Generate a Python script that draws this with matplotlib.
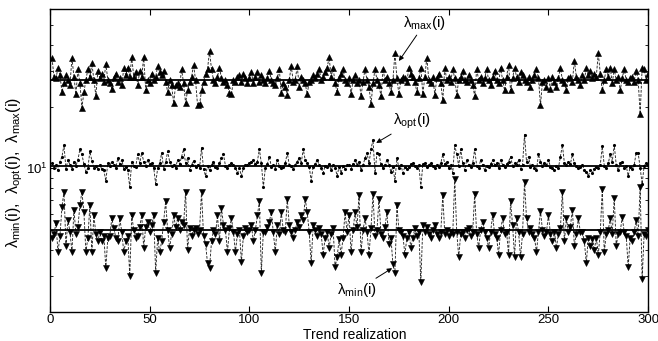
import numpy as np
import matplotlib
matplotlib.use('Agg')
import matplotlib.pyplot as plt
from matplotlib.ticker import NullFormatter, LogLocator

plt.rcParams['font.family'] = ['Liberation Sans', 'DejaVu Sans']
plt.rcParams['mathtext.fontset'] = 'custom'
plt.rcParams['mathtext.rm'] = 'Liberation Sans'
plt.rcParams['mathtext.it'] = 'Liberation Sans:italic'

# realizations 1..300
realization = np.arange(1, 301)

lam_max = [
    34.5, 28, 27.5, 31, 28.5, 23.5, 26, 28.5, 27, 25.5, 34.5, 28, 23, 30.5, 26, 19.8, 23.5, 27, 30.5, 28,
    32.5, 27, 22.6, 30, 27.5, 29, 26.5, 32.4, 27, 26, 24.5, 27.5, 29, 26.5, 27.5, 25.5, 30.8, 28.5, 31, 28,
    34.8, 28, 29.5, 25.5, 30, 28, 35, 24, 27, 26, 29, 27, 28, 31.5, 29.5, 28.5, 30, 26.5, 23.6, 27,
    25.5, 20.8, 25.5, 26, 25, 30.5, 26, 20.8, 24, 26.5, 28, 32, 27, 20.3, 20.5, 24, 26.5, 29, 30.5, 37.2,
    30.5, 27, 26, 28, 31, 27.5, 26.5, 27, 25.5, 23.4, 23, 27, 26.5, 28, 28.5, 26.5, 29, 27.5, 26, 27.5,
    29.5, 26, 28, 29.5, 26.5, 28.5, 27, 26, 27.5, 30, 27, 26, 25.5, 27.5, 30.5, 23.2, 26, 25, 22.8, 27,
    31.5, 26.5, 27, 31.5, 25, 28, 27, 26, 23, 26.5, 27, 28.5, 27.5, 29, 30.5, 27, 28, 29.5, 31, 34.8,
    28, 31, 26, 23.5, 27.5, 29, 30.5, 27, 26, 27.5, 23, 27, 28.5, 26, 27, 22.5, 26.5, 30.5, 27, 25,
    20.5, 26, 30.5, 27, 25.5, 22.5, 30.5, 27, 28, 26, 23.5, 27, 36.5, 27.5, 23, 27, 28, 27.5, 26.5, 31,
    29, 28, 26.5, 23.5, 27.5, 31, 23, 28, 34.7, 27, 26, 28, 22.8, 27.5, 29, 26, 21.5, 31, 27, 28,
    26.5, 30.5, 27.5, 22.8, 27, 28, 30, 27, 26.5, 28.5, 27, 25.5, 22.5, 30.5, 27, 28, 26, 27.5, 30.5, 27,
    25.5, 28, 30, 27, 26, 31, 27, 24, 28, 32, 24, 27.5, 31, 28, 26.5, 29.5, 28.5, 27, 26.5, 28,
    25, 27, 28.5, 30.5, 27.5, 20.3, 26.5, 27, 25, 27.5, 24.5, 28, 26.5, 25, 27.5, 31, 27, 26, 24, 27.5,
    28, 26.5, 33.5, 28, 27, 25.5, 28.5, 27, 31, 28.5, 30, 27.5, 29, 28, 36.5, 29, 24, 27, 30.5, 28,
    31, 26, 30.5, 27, 28, 24, 27.5, 30.5, 27, 26.5, 27.5, 28, 26.5, 30, 27, 18.4, 31, 30.5, 27, 29,
]

lam_opt = [
    10.6, 10.1, 10.4, 9.8, 10.8, 11.4, 13.0, 9.95, 11.0, 10.4, 9.95, 10.8, 10.3, 11.0, 12.4, 11.7, 10.5, 9.6, 10.05, 12.1,
    10.9, 10.05, 10.3, 9.95, 10.4, 9.9, 9.8, 8.7, 10.6, 10.3, 10.8, 10.4, 10.1, 11.2, 10.5, 11.0, 9.95, 10.2, 9.8, 8.1,
    10.8, 10.3, 10.2, 11.7, 10.6, 11.9, 10.8, 10.3, 11.0, 10.5, 10.6, 10.1, 8.4, 10.05, 10.6, 11.9, 9.95, 10.7, 12.1, 10.8,
    10.3, 10.4, 10.1, 11.0, 10.5, 11.4, 12.4, 10.6, 11.2, 9.8, 10.4, 10.9, 10.2, 10.4, 10.0, 12.6, 9.95, 9.2, 10.3, 9.8,
    10.4, 10.8, 10.2, 10.05, 10.6, 11.2, 11.7, 10.3, 10.05, 10.4, 10.6, 10.4, 10.1, 9.5, 10.0, 9.2, 10.05, 10.4, 10.4, 10.6,
    10.8, 11.0, 10.5, 10.8, 12.4, 10.6, 8.1, 10.05, 10.5, 11.4, 10.2, 10.4, 9.95, 11.0, 10.3, 10.05, 10.2, 10.6, 11.9, 10.4,
    10.3, 9.95, 10.4, 10.8, 11.2, 10.6, 12.4, 11.0, 10.6, 10.2, 8.7, 10.2, 10.5, 11.0, 10.4, 10.05, 9.5, 10.3, 10.2, 10.5,
    9.8, 10.4, 10.1, 9.2, 10.2, 9.5, 10.3, 9.95, 10.4, 10.4, 9.95, 10.5, 11.0, 10.4, 10.8, 9.8, 10.4, 11.2, 11.9, 10.6,
    12.4, 13.8, 9.5, 11.9, 11.7, 10.5, 10.05, 10.4, 11.0, 10.4, 9.6, 10.2, 8.7, 11.2, 10.05, 10.4, 9.5, 10.2, 9.95, 10.2,
    10.5, 10.6, 10.3, 10.05, 10.4, 8.1, 10.5, 10.6, 10.2, 10.4, 10.6, 10.3, 10.05, 10.4, 10.2, 10.6, 11.7, 10.5, 10.8, 10.05,
    10.4, 9.5, 13.0, 11.7, 10.3, 12.4, 10.6, 9.8, 11.0, 10.4, 10.2, 10.6, 12.4, 10.3, 10.05, 11.0, 10.4, 9.8, 10.3, 10.2,
    10.5, 11.0, 10.4, 10.6, 10.05, 11.0, 10.4, 10.2, 10.5, 10.8, 11.4, 10.3, 10.6, 10.4, 11.0, 9.95, 10.4, 14.6, 10.8, 11.4,
    10.2, 10.4, 10.1, 9.8, 11.7, 10.8, 10.3, 10.6, 10.4, 11.0, 10.2, 10.0, 9.8, 10.3, 10.05, 11.4, 13.0, 10.6, 10.4, 10.8,
    10.5, 11.7, 10.6, 10.3, 10.05, 10.2, 10.4, 9.8, 9.6, 9.2, 9.8, 9.5, 9.95, 10.2, 10.05, 10.4, 12.8, 10.3, 10.05, 10.6,
    11.7, 10.8, 13.0, 10.4, 9.8, 10.6, 10.8, 10.05, 10.3, 9.2, 10.2, 9.95, 10.4, 11.9, 11.9, 10.05, 8.4, 10.3, 10.6, 10.4,
]

lam_min = [
    4.6, 4.8, 5.4, 3.9, 4.7, 6.5, 7.7, 4.2, 5.6, 4.9, 3.9, 6.3, 4.8, 5.2, 6.6, 7.7, 6.1, 3.9, 4.6, 6.6,
    3.9, 5.9, 4.8, 4.4, 4.9, 4.4, 4.7, 3.25, 4.6, 4.7, 5.7, 5.1, 4.6, 4.4, 5.7, 4.9, 3.9, 4.4, 4.7, 3.0,
    5.9, 5.0, 4.55, 4.7, 5.2, 5.9, 4.1, 5.2, 5.5, 4.9, 5.3, 5.9, 3.1, 4.6, 3.9, 4.4, 5.5, 6.9, 5.0, 4.1,
    4.8, 5.9, 5.2, 5.7, 5.0, 5.5, 5.3, 7.7, 4.0, 5.1, 4.7, 5.0, 5.1, 4.8, 5.0, 7.7, 4.7, 4.3, 3.45, 3.25,
    4.4, 5.0, 4.8, 5.9, 4.4, 6.4, 5.3, 5.0, 3.9, 5.1, 5.7, 4.9, 3.9, 4.8, 5.0, 3.5, 4.7, 5.1, 4.9, 5.0,
    5.3, 4.4, 5.0, 5.9, 6.9, 3.1, 4.9, 4.9, 5.2, 5.5, 6.1, 4.9, 3.9, 5.3, 4.8, 6.1, 5.0, 4.9, 7.1, 5.3,
    4.9, 4.6, 5.0, 5.5, 5.2, 5.9, 5.6, 7.1, 6.1, 4.9, 3.45, 5.3, 5.0, 4.7, 5.1, 4.8, 3.8, 4.6, 4.9, 4.1,
    4.8, 5.1, 3.3, 3.7, 4.5, 3.8, 4.6, 6.1, 4.9, 5.9, 3.9, 5.0, 6.1, 5.2, 7.4, 3.9, 5.0, 5.7, 4.9, 3.8,
    5.1, 7.5, 4.7, 5.0, 7.1, 4.8, 4.6, 5.2, 6.1, 4.3, 4.6, 3.4, 3.1, 6.6, 5.0, 4.9, 4.7, 3.8, 4.6, 4.9,
    4.1, 4.6, 5.1, 4.7, 4.9, 2.8, 5.3, 4.9, 5.2, 4.8, 4.6, 5.0, 5.3, 4.8, 4.55, 4.9, 7.4, 4.8, 5.0, 4.7,
    4.9, 4.8, 8.9, 4.9, 3.7, 4.8, 4.9, 4.6, 5.0, 5.1, 4.7, 4.9, 7.5, 4.8, 4.1, 5.0, 5.5, 4.9, 4.6, 4.1,
    4.9, 5.9, 4.8, 4.6, 3.8, 5.0, 5.7, 4.8, 4.9, 3.8, 6.9, 5.3, 3.7, 5.7, 4.9, 3.7, 4.8, 8.6, 5.7, 4.9,
    5.1, 4.8, 4.6, 3.9, 4.9, 6.2, 5.0, 4.7, 4.9, 5.9, 4.8, 4.4, 4.9, 4.1, 4.8, 5.1, 7.7, 4.4, 5.7, 4.9,
    5.2, 6.3, 4.2, 4.8, 5.7, 4.9, 4.9, 4.4, 3.45, 4.6, 4.2, 4.5, 4.0, 4.6, 3.8, 4.9, 7.9, 3.9, 4.8, 5.0,
    5.7, 4.8, 7.2, 4.2, 4.8, 4.9, 5.8, 4.9, 4.7, 3.3, 4.6, 4.4, 4.9, 5.6, 4.7, 8.1, 2.9, 4.8, 4.7, 5.0,
]

# reference levels (solid lines)
lam_max_ref = 27.0
lam_opt_ref = 10.3
lam_min_ref = 5.0

fig = plt.figure(figsize=(6.58, 3.41), dpi=100)
ax = fig.add_axes([0.076, 0.086, 0.909, 0.888])

dash = (0, (3, 1.6))
line_col = '0.15'
ax.plot(realization, lam_max, color=line_col, linestyle=dash, linewidth=0.65,
        marker='^', markersize=3.8, markerfacecolor='k', markeredgecolor='k', markeredgewidth=0.4)
ax.plot(realization, lam_opt, color=line_col, linestyle=dash, linewidth=0.65,
        marker='.', markersize=2.5, markerfacecolor='k', markeredgecolor='k')
ax.plot(realization, lam_min, color=line_col, linestyle=dash, linewidth=0.65,
        marker='v', markersize=3.8, markerfacecolor='k', markeredgecolor='k', markeredgewidth=0.4)

for lev in [lam_max_ref, lam_opt_ref, lam_min_ref]:
    ax.axhline(lev, color='k', linewidth=1.3)

ax.set_yscale('log')
ax.set_xlim(0, 300)
ax.set_ylim(2, 60)
ax.set_xticks(np.arange(0, 301, 50))
ax.yaxis.set_major_locator(LogLocator(base=10, numticks=5))
ax.yaxis.set_minor_locator(LogLocator(base=10, subs=np.arange(2, 10), numticks=10))
ax.yaxis.set_minor_formatter(NullFormatter())
ax.tick_params(which='both', direction='in', top=True, right=True, labelsize=9.5)
ax.tick_params(which='major', length=4, width=0.8, pad=2)
ax.tick_params(which='minor', length=2.5, width=0.6)
for s in ax.spines.values():
    s.set_linewidth(1.0)

ax.set_xlabel('Trend realization', fontsize=10)
ax.xaxis.set_label_coords(0.51, -0.054, transform=ax.transAxes)
ax.xaxis.label.set_va('top')
ax.set_ylabel(r'λ$_{\mathrm{min}}$(i),  λ$_{\mathrm{opt}}$(i),  λ$_{\mathrm{max}}$(i)', fontsize=11.5)
ax.yaxis.set_label_coords(-0.042, 0.46)

arrow = dict(arrowstyle='-|>', color='k', linewidth=0.7, mutation_scale=7, shrinkA=0, shrinkB=0)
ax.annotate(r'λ$_{\mathrm{max}}$(i)', xy=(175, 33.4), xytext=(188, 51), fontsize=11,
            ha='center', va='center', arrowprops=arrow)
ax.annotate(r'λ$_{\mathrm{opt}}$(i)', xy=(163.6, 13.3), xytext=(181.6, 16.9), fontsize=11,
            ha='center', va='center', arrowprops=arrow)
ax.annotate(r'λ$_{\mathrm{min}}$(i)', xy=(171.6, 3.26), xytext=(154, 2.55), fontsize=11,
            ha='center', va='center', arrowprops=arrow)

fig.savefig('out.png', dpi=100)
